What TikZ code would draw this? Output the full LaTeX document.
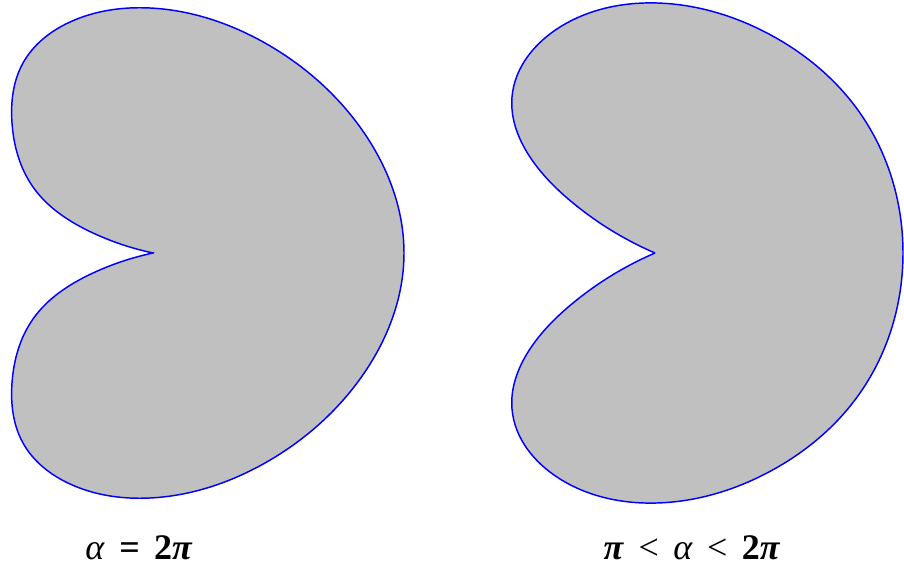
\documentclass[tikz,border=0pt]{standalone}
\usepackage{fontspec}
\setmainfont{Liberation Serif}
\usetikzlibrary{hobby}
\definecolor{regiongray}{RGB}{192,192,192}

\begin{document}
\begin{tikzpicture}[
        x=0.75pt, y=-0.75pt,
        region/.style={draw=blue,fill=regiongray,line width=1.1pt,line join=miter,use Hobby shortcut},
        lbl/.style={font=\fontsize{27}{32}\selectfont},
    ]

    \useasboundingbox (0,0) rectangle (904,573);

    % alpha = 2 pi
    \draw[region] (153,253) .. (93,233) .. (33,187) .. (12,123) .. (23,63)
        .. (70,22) .. (150,8) .. (265,43) .. (360,127) .. (404,253)
        .. (360,379) .. (265,463) .. (150,498) .. (70,484) .. (23,443)
        .. (12,383) .. (33,319) .. (93,273) .. (153,253) -- cycle;

    % pi < alpha < 2 pi
    \draw[region] (655,253) .. (573,203) .. (532,160) .. (512,97) .. (560,27)
        .. (657,3) .. (767,33) .. (860,113) .. (903,253)
        .. (860,393) .. (767,473) .. (657,503) .. (560,479)
        .. (512,409) .. (532,346) .. (573,303) .. (655,253) -- cycle;

    \node[lbl] (left) at (139,548) {\textit{α}\hspace{0.4em}\textbf{=\hspace{0.4em}2\textit{π}}};
    \node[lbl] (right) at (692,548) {\textbf{\textit{π}}\hspace{0.4em}<\hspace{0.4em}\textit{α}\hspace{0.4em}<\hspace{0.4em}\textbf{2\textit{π}}};

\end{tikzpicture}
\end{document}
